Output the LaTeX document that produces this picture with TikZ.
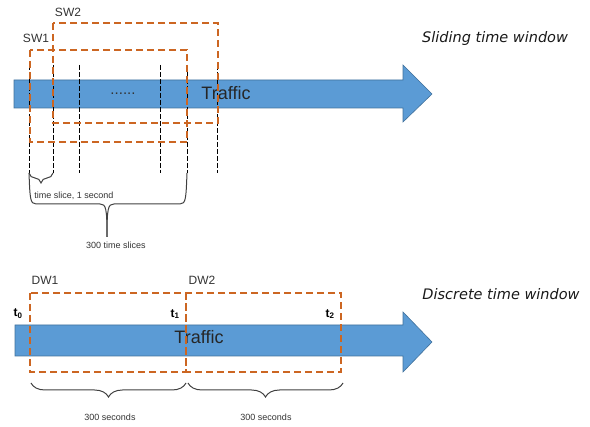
\documentclass[tikz,border=0pt]{standalone}
\usepackage{fontspec}
\setmainfont{Liberation Sans}
\newfontfamily\handfont{DejaVu Sans}
\usetikzlibrary{decorations.pathreplacing}

\definecolor{flowblue}{RGB}{91,155,213}
\definecolor{flowedge}{RGB}{65,113,156}
\definecolor{winorange}{RGB}{204,102,34}

\begin{document}
\begin{tikzpicture}[x=1pt, y=-1pt,
  flow/.style={fill=flowblue, draw=flowedge, line width=0.6pt},
  win/.style={draw=winorange, line width=1.6pt, dash pattern=on 7pt off 4pt},
  tick/.style={draw=black, line width=1pt, dash pattern=on 5pt off 2pt},
  brc/.style={draw=black!75, line width=1pt, decorate, decoration={brace, amplitude=#1}},
  small/.style={font=\fontsize{9}{10}\selectfont, text=black!80},
  hand/.style={font=\handfont\itshape\fontsize{14.5}{16}\selectfont, text=black!90}]
\useasboundingbox (0,0) rectangle (590,427);

% sliding window
\draw[flow] (14,80) -- (403,80) -- (403,65) -- (432,94) -- (403,122) -- (403,108) -- (14,108) -- cycle;
\node[font=\fontsize{18}{20}\selectfont, text=black!85] (traf1) at (226,93) {Traffic};
\node[font=\fontsize{15}{16}\selectfont, text=black!80] (dots) at (123,94) {......};
\foreach \x in {29,53,79,160,187,217} {
  \draw[tick] (\x,65) -- (\x,173);
}
\draw[win] (30,50) rectangle (187,142);
\draw[win] (53,23) rectangle (218,123);
\node[font=\fontsize{12}{14}\selectfont, text=black!80] (sw1) at (36,38) {SW1};
\node[font=\fontsize{12}{14}\selectfont, text=black!80] (sw2) at (68,12) {SW2};
\node[hand] (slide) at (495,39) {Sliding time window};

\draw[brc=10pt] (53,173) -- (29,173);
\draw[draw=black!75, line width=1pt] (29,173) .. controls (30,198) and (30,204) .. (36,204) -- (100,204) .. controls (106,204) and (107,208) .. (107,237);
\draw[draw=black!75, line width=1pt] (187,173) .. controls (186,198) and (186,204) .. (180,204) -- (114,204) .. controls (108,204) and (107,208) .. (107,237);
\node[small] (slice) at (74,196) {time slice, 1 second};
\node[small] (slices) at (116,245) {300 time slices};

% discrete window
\draw[flow] (15,325) -- (403,325) -- (403,312) -- (432,342) -- (403,372) -- (403,356) -- (15,356) -- cycle;
\node[font=\fontsize{18}{20}\selectfont, text=black!85] (traf2) at (199,337) {Traffic};
\draw[win] (30,293) rectangle (186,372);
\draw[win] (186,293) rectangle (341,372);
\node[font=\fontsize{12}{14}\selectfont, text=black!80] (dw1) at (45,280) {DW1};
\node[font=\fontsize{12}{14}\selectfont, text=black!80] (dw2) at (202,280) {DW2};
\node[font=\bfseries\fontsize{12}{14}\selectfont] (t0) at (18,314) {t\textsubscript{0}};
\node[font=\bfseries\fontsize{12}{14}\selectfont] (t1) at (175,314) {t\textsubscript{1}};
\node[font=\bfseries\fontsize{12}{14}\selectfont] (t2) at (330,314) {t\textsubscript{2}};
\node[hand] (disc) at (501,294) {Discrete time window};

\draw[brc=14pt] (186,383) -- (31,383);
\draw[brc=14pt] (343,383) -- (188,383);
\node[small] (sec1) at (110,417) {300 seconds};
\node[small] (sec2) at (266,417) {300 seconds};
\end{tikzpicture}
\end{document}
